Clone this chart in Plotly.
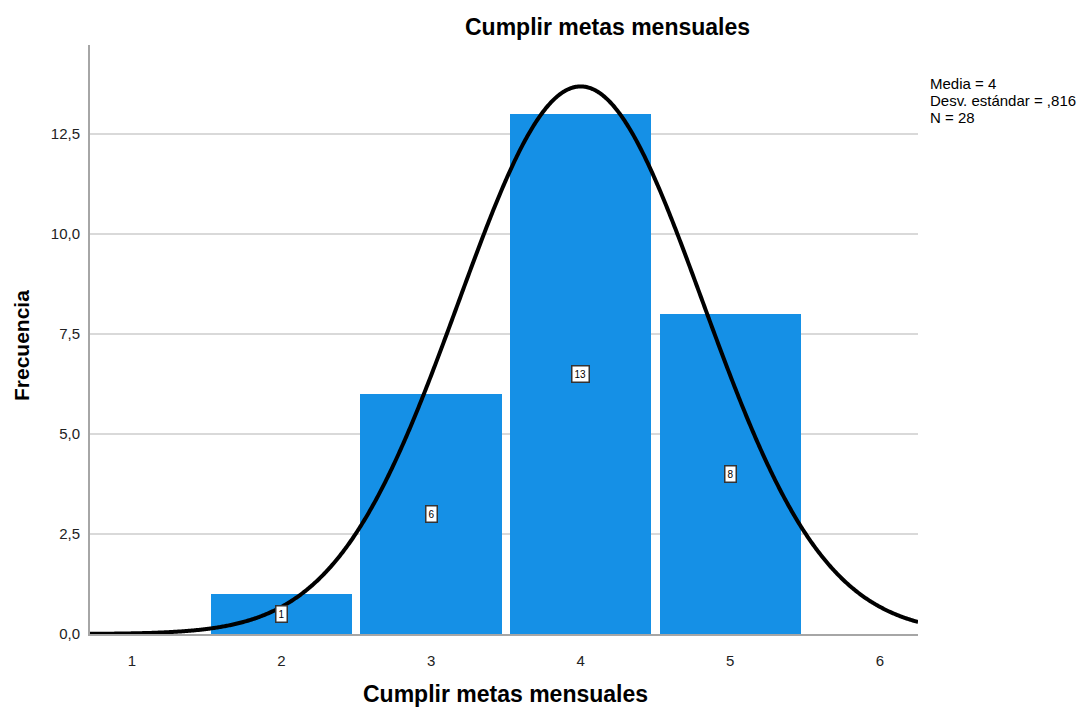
import numpy as np
import plotly.graph_objects as go

# Data
categories = [2, 3, 4, 5]
counts = [1, 6, 13, 8]
count_labels = ["1", "6", "13", "8"]
mean_val = 4.0
sd_val = 0.816
n_val = 28
x_ticks = [1, 2, 3, 4, 5, 6]
x_tick_labels = ["1", "2", "3", "4", "5", "6"]
y_ticks = [0, 2.5, 5, 7.5, 10, 12.5]
y_tick_labels = ["0,0", "2,5", "5,0", "7,5", "10,0", "12,5"]
stats_text = ["Media = 4", "Desv. estándar = ,816", "N = 28"]

OFF = 8  # page body margin
W, H = 1090 - OFF, 708 - OFF
L, T = 90 - OFF, 45 - OFF
R = W - (918 - OFF)
B = H - (634 - OFF)
PW, PH = W - L - R, H - T - B
x_range = [0.72, 6.255]
y_range = [0, 14.725]
FONT = "Liberation Sans, Arial, sans-serif"


def px_to_paper(px, py):
    # px, py: screenshot pixel coordinates
    fx, fy = px - OFF, py - OFF
    return (fx - L) / PW, (H - B - fy) / PH


fig = go.Figure()
fig.add_trace(go.Bar(
    x=categories, y=counts, width=0.945,
    marker=dict(color="#1590E6", line=dict(width=0)),
    showlegend=False, hoverinfo="skip",
))

# Normal curve fitted from the stated mean, sd and N (bin width 1)
xc = np.linspace(x_range[0], x_range[1], 800)
yc = n_val * 1.0 / (sd_val * np.sqrt(2 * np.pi)) * np.exp(-0.5 * ((xc - mean_val) / sd_val) ** 2)
fig.add_trace(go.Scatter(
    x=xc, y=yc, mode="lines", line=dict(color="black", width=4, simplify=False),
    showlegend=False, hoverinfo="skip", cliponaxis=False,
))

annotations = []
for c, v, lab in zip(categories, counts, count_labels):
    annotations.append(dict(
        x=c, y=v / 2, xref="x", yref="y", text=lab, showarrow=False,
        font=dict(family=FONT, size=10, color="black"),
        bgcolor="white", bordercolor="#333333", borderwidth=1.5, borderpad=2,
    ))

tx, ty = px_to_paper(607, 27)
annotations.append(dict(
    x=tx, y=ty, xref="paper", yref="paper",
    text="<b>Cumplir metas mensuales</b>", showarrow=False,
    font=dict(family=FONT, size=23, color="black"),
    xanchor="center", yanchor="middle",
))
for i, s in enumerate(stats_text):
    sx, sy = px_to_paper(928, 84 + 16.5 * i)
    annotations.append(dict(
        x=sx, y=sy, xref="paper", yref="paper",
        text=s, showarrow=False, align="left",
        font=dict(family=FONT, size=15, color="black"),
        xanchor="left", yanchor="middle",
    ))
xx, xy = px_to_paper(505, 694)
annotations.append(dict(
    x=xx, y=xy, xref="paper", yref="paper",
    text="<b>Cumplir metas mensuales</b>", showarrow=False,
    font=dict(family=FONT, size=23, color="black"),
    xanchor="center", yanchor="middle",
))
yx, yy = px_to_paper(21, 346)
annotations.append(dict(
    x=yx, y=yy, xref="paper", yref="paper",
    text="<b>Frecuencia</b>", showarrow=False, textangle=-90,
    font=dict(family=FONT, size=21, color="black"),
    xanchor="center", yanchor="middle",
))

fig.update_layout(
    template="none",
    width=W, height=H,
    margin=dict(l=L, r=R, t=T, b=B, pad=0),
    paper_bgcolor="white", plot_bgcolor="white",
    bargap=0,
    annotations=annotations,
    xaxis=dict(
        range=x_range, tickvals=x_ticks, ticktext=x_tick_labels,
        showgrid=False, zeroline=False, showline=True, linecolor="#A6A6A6", linewidth=2,
        ticks="", ticklabelstandoff=12, automargin=False,
        tickfont=dict(family=FONT, size=15, color="#222222"),
    ),
    yaxis=dict(
        range=y_range, tickvals=y_ticks, ticktext=y_tick_labels,
        showgrid=True, gridcolor="#D9D9D9", gridwidth=2,
        zeroline=False, showline=True, linecolor="#A6A6A6", linewidth=2,
        ticks="", ticklabelstandoff=5, automargin=False,
        tickfont=dict(family=FONT, size=15, color="#222222"),
    ),
)

fig.write_html("out.html")
